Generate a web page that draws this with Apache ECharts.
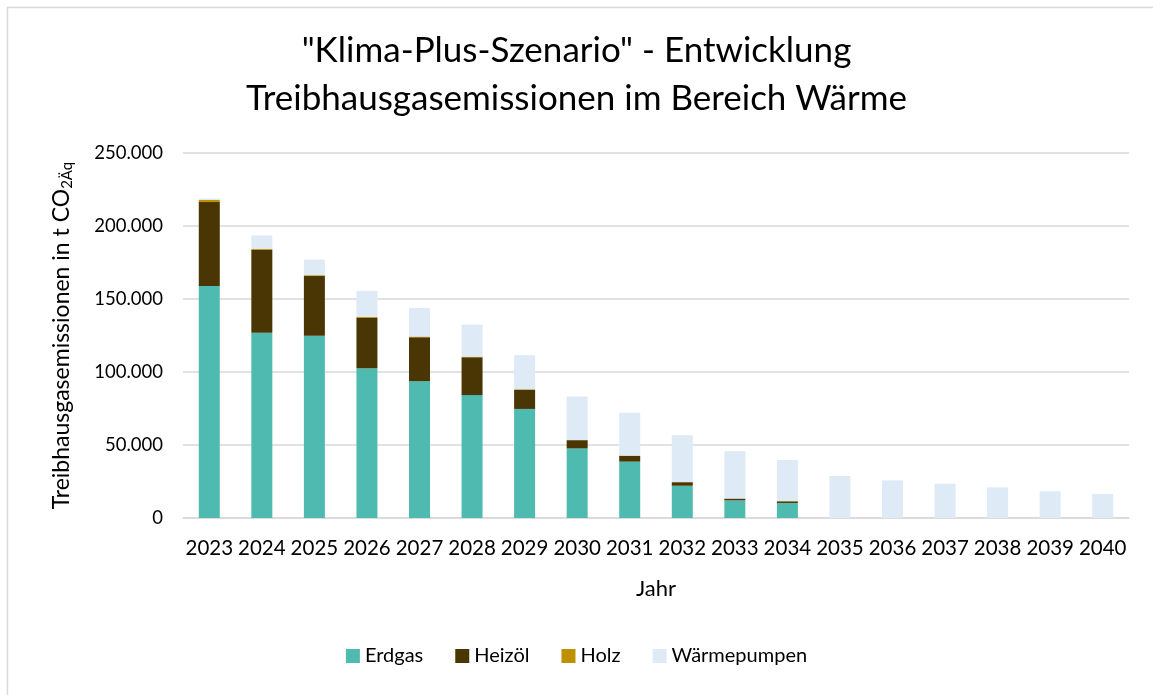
<!DOCTYPE html>
<html lang="de">
<head>
    <meta charset="UTF-8">
    <title>Klima-Plus-Szenario</title>
    <style>
        html, body { margin: 0; padding: 0; background: #fff; }
    </style>
</head>
<body>
    <div id="chart" style="width: 1153px;height: 695px"></div>

    <script src="https://cdn.jsdelivr.net/npm/echarts@6/dist/echarts.min.js"></script>
    <script>
        // Jahre (Kategorien)
        var jahre = ['2023', '2024', '2025', '2026', '2027', '2028', '2029', '2030', '2031',
            '2032', '2033', '2034', '2035', '2036', '2037', '2038', '2039', '2040'];

        // Emissionen in t CO2Äq
        var erdgas = [158900, 126900, 124900, 102500, 93600, 84200, 74700, 47700, 38600,
            22100, 12100, 10300, 0, 0, 0, 0, 0, 0];
        var heizoel = [57500, 56800, 40800, 34600, 30200, 25900, 13200, 5600, 4000,
            2400, 1200, 1100, 0, 0, 0, 0, 0, 0];
        var holz = [1400, 600, 600, 700, 500, 400, 300, 200, 150,
            100, 100, 300, 0, 0, 0, 0, 0, 0];
        var waermepumpen = [1000, 9200, 10700, 17800, 19600, 22000, 23300, 29700, 29400,
            32000, 32400, 28000, 28800, 25800, 23500, 21000, 18300, 16400];

        var yTicks = [0, 50000, 100000, 150000, 200000, 250000];

        var colors = ['#4fbbb0', '#4a3604', '#bf9000', '#deeaf6'];
        var font = 'Lato, "Open Sans", sans-serif';

        var myChart = echarts.init(document.getElementById('chart'));

        function serie(name, data) {
            return {
                name: name,
                type: 'bar',
                stack: 'gesamt',
                barWidth: 21,
                data: data
            };
        }

        myChart.setOption({
            animation: false,
            color: colors,
            textStyle: { fontFamily: font, color: '#000' },
            title: {
                text: '"Klima-Plus-Szenario" - Entwicklung\nTreibhausgasemissionen im Bereich Wärme',
                left: 'center',
                top: 22,
                textStyle: {
                    fontFamily: font,
                    fontSize: 35,
                    fontWeight: 'normal',
                    color: '#000',
                    lineHeight: 48
                }
            },
            graphic: [{
                type: 'rect',
                shape: { x: 7.5, y: 7.5, width: 1160, height: 700 },
                style: { fill: 'none', stroke: '#d9d9d9', lineWidth: 1.5 },
                silent: true
            }],
            legend: {
                bottom: 24,
                left: 'center',
                itemWidth: 14,
                itemHeight: 14,
                itemGap: 32,
                icon: 'rect',
                textStyle: { fontFamily: font, fontSize: 20, color: '#000' },
                data: ['Erdgas', 'Heizöl', 'Holz', 'Wärmepumpen']
            },
            grid: {
                left: 183,
                right: 24,
                top: 153,
                bottom: 177
            },
            xAxis: {
                type: 'category',
                data: jahre,
                name: 'Jahr',
                nameLocation: 'middle',
                nameGap: 60,
                nameTextStyle: { fontFamily: font, fontSize: 22, color: '#000' },
                axisTick: { show: false },
                axisLine: { lineStyle: { color: '#d9d9d9', width: 1.5 } },
                axisLabel: { interval: 0, margin: 20, fontSize: 20.5, color: '#000', fontFamily: font }
            },
            yAxis: {
                type: 'value',
                min: yTicks[0],
                max: yTicks[yTicks.length - 1],
                interval: 50000,
                name: 'Treibhausgasemissionen in t CO{sub|2Äq}',
                nameLocation: 'middle',
                nameRotate: 90,
                nameGap: 110,
                nameTextStyle: {
                    fontFamily: font,
                    fontSize: 23,
                    color: '#000',
                    rich: {
                        sub: { fontSize: 15, fontFamily: font, color: '#000', padding: [0, 0, -12, 0] }
                    }
                },
                axisLine: { show: false },
                axisTick: { show: false },
                splitLine: { lineStyle: { color: '#d9d9d9', width: 1.5 } },
                axisLabel: {
                    fontSize: 18.5,
                    color: '#000',
                    fontFamily: font,
                    margin: 20,
                    formatter: function (v) {
                        return v.toLocaleString('de-DE');
                    }
                }
            },
            series: [
                serie('Erdgas', erdgas),
                serie('Heizöl', heizoel),
                serie('Holz', holz),
                serie('Wärmepumpen', waermepumpen)
            ]
        });
    </script>
</body>
</html>
